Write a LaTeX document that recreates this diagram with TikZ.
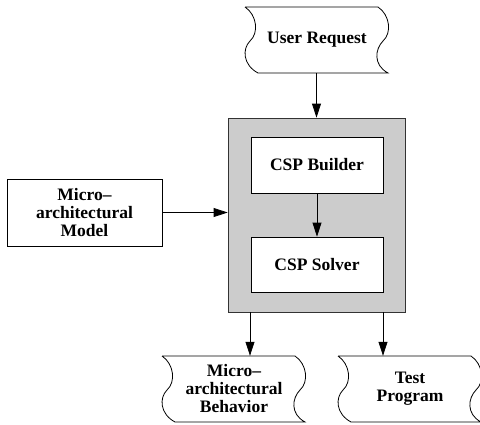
\documentclass[tikz,border=0pt]{standalone}
\usepackage{fontspec}
\setmainfont{Liberation Serif}
\usetikzlibrary{arrows.meta}
\tikzset{
  lbl/.style={font=\bfseries\fontsize{17.5}{18}\selectfont, align=center, inner sep=0pt},
  boxnode/.style={lbl, draw=black, line width=0.8pt, fill=white},
  tapenode/.style={lbl, minimum width=130pt, minimum height=66pt},
  arr/.style={line width=0.8pt, -{Triangle[length=14pt,width=9pt]}},
  tapeline/.style={line width=0.8pt}
}
\newcommand{\tapeshape}[1]{%
  \draw[tapeline] ([shift={(-72pt,33pt)}]#1.center) -- ([shift={(61pt,33pt)}]#1.center)
    .. controls +(12pt,-8pt) and +(9pt,8pt) .. +(5pt,-34pt)
    .. controls +(-8pt,-8pt) and +(-15pt,8pt) .. +(10pt,-66pt)
    -- ([shift={(-59pt,-33pt)}]#1.center)
    .. controls +(-15pt,8pt) and +(-8pt,-8pt) .. +(-8pt,32pt)
    .. controls +(9pt,8pt) and +(12pt,-8pt) .. ([shift={(-72pt,33pt)}]#1.center);
}
\begin{document}
\begin{tikzpicture}[x=1pt,y=-1pt]
\useasboundingbox (0,0) rectangle (480,424);
% gray container
\node[draw=black!80, line width=0.8pt, fill=black!20, minimum width=177pt, minimum height=194pt, inner sep=0pt] (gray) at (316.5,215) {};
\node[boxnode, minimum width=132pt, minimum height=56pt] (builder) at (317,165) {CSP Builder};
\node[boxnode, minimum width=132pt, minimum height=55pt] (solver) at (317,264.5) {CSP Solver};
\node[boxnode, minimum width=155pt, minimum height=67pt] (model) at (84.5,212.5) {Micro--\\architectural\\Model};
% tapes
\node[tapenode] (user) at (317,40) {User Request};
\node[tapenode] (behav) at (234,389) {Micro--\\architectural\\Behavior};
\node[tapenode] (test) at (410,389) {Test\\Program};
\tapeshape{user}
\tapeshape{behav}
\tapeshape{test}
% connectors
\draw[arr] (gray.north |- user.south) -- (gray.north);
\draw[arr] (builder.south) -- (solver.north);
\draw[arr] (model.east) -- (model.east -| gray.west);
\draw[arr] ([xshift=-66.5pt]gray.south) -- ([xshift=-66.5pt]gray.south |- behav.north);
\draw[arr] ([xshift=66.5pt]gray.south) -- ([xshift=66.5pt]gray.south |- test.north);
\end{tikzpicture}
\end{document}
